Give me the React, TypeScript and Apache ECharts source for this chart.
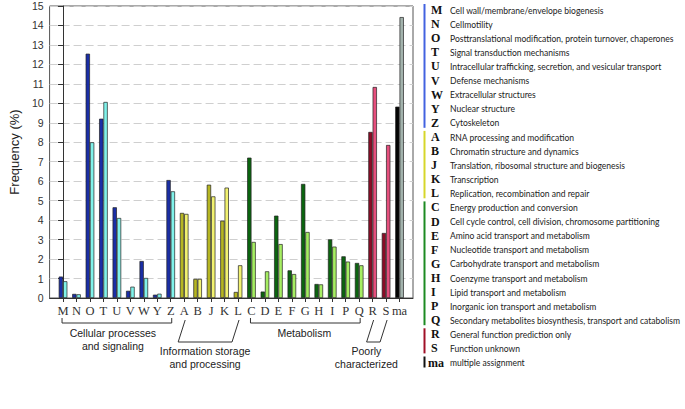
import React, { useEffect, useRef } from "react";
import * as echarts from "echarts";

const categories = ["M","N","O","T","U","V","W","Y","Z","A","B","J","K","L","C","D","E","F","G","H","I","P","Q","R","S","ma"];
const groupOf = ["cell","cell","cell","cell","cell","cell","cell","cell","cell","info","info","info","info","info","meta","meta","meta","meta","meta","meta","meta","meta","meta","poor","poor","ma"];
const darkValues = [1.10,0.21,12.55,9.21,4.66,0.37,1.90,0.17,6.06,4.37,0.98,5.82,3.97,0.31,7.21,0.33,4.23,1.42,5.86,0.72,3.01,2.14,1.80,8.53,3.34,9.83];
const lightValues = [0.86,0.19,8.0,10.07,4.11,0.58,1.03,0.22,5.48,4.32,0.98,5.22,5.67,1.68,2.88,1.37,2.77,1.23,3.39,0.70,2.64,1.87,1.68,10.84,7.86,14.43];
const descriptions = [
  "Cell wall/membrane/envelope biogenesis",
  "Cellmotility",
  "Posttranslational modification, protein turnover, chaperones",
  "Signal transduction mechanisms",
  "Intracellular trafficking, secretion, and vesicular transport",
  "Defense mechanisms",
  "Extracellular structures",
  "Nuclear structure",
  "Cytoskeleton",
  "RNA processing and modification",
  "Chromatin structure and dynamics",
  "Translation, ribosomal structure and biogenesis",
  "Transcription",
  "Replication, recombination and repair",
  "Energy production and conversion",
  "Cell cycle control, cell division, chromosome partitioning",
  "Amino acid transport and metabolism",
  "Nucleotide transport and metabolism",
  "Carbohydrate transport and metabolism",
  "Coenzyme transport and metabolism",
  "Lipid transport and metabolism",
  "Inorganic ion transport and metabolism",
  "Secondary metabolites biosynthesis, transport and catabolism",
  "General function prediction only",
  "Function unknown",
  "multiple assignment",
];
const groupKeys = ["cell", "info", "meta", "poor", "ma"];
const groupTitles = ["Cellular processes\nand signaling", "Information storage\nand processing", "Metabolism", "Poorly\ncharacterized", ""];
const yTicks = [0, 1, 2, 3, 4, 5, 6, 7, 8, 9, 10, 11, 12, 13, 14, 15];

const darkColors: Record<string, string> = { cell: "#1a2ea6", info: "#b6b622", meta: "#0b640f", poor: "#8a0c26", ma: "#050505" };
const lightColors: Record<string, string> = { cell: "#80f2ea", info: "#f2f270", meta: "#a6ee62", poor: "#e64f7d", ma: "#a3b3ad" };
const legendBarColors: Record<string, string> = { cell: "#4262e0", info: "#d6d62a", meta: "#1d8a22", poor: "#a01028", ma: "#111111" };

export default function App() {
  const ref = useRef<HTMLDivElement>(null);
  useEffect(() => {
    if (!ref.current) return;
    const chart = echarts.init(ref.current, null, { renderer: "svg" });
    const mkData = (vals: number[], colors: Record<string, string>) =>
      vals.map((v, i) => ({ value: [i, v], itemStyle: { color: colors[groupOf[i]] } }));
    chart.setOption({
      animation: false,
      grid: { left: 46, right: 272, top: 6, bottom: 111, show: true, borderColor: "#555", borderWidth: 1, backgroundColor: "transparent" },
      xAxis: {
        type: "value",
        min: -1,
        max: 26,
        interval: 1,
        splitLine: { show: false },
        axisLine: { lineStyle: { color: "#333", width: 1 } },
        axisTick: { show: true, length: 4, lineStyle: { color: "#333" }, customValues: categories.map((_, i) => i) },
        axisLabel: {
          customValues: categories.map((_, i) => i),
          formatter: (v: number) => categories[v] ?? "",
          fontFamily: "Liberation Serif",
          fontSize: 12.5,
          color: "#333",
          margin: 6,
        },
      },
      yAxis: {
        type: "value",
        min: yTicks[0],
        max: yTicks[yTicks.length - 1],
        interval: 1,
        name: "Frequency (%)",
        nameLocation: "middle",
        nameGap: 28,
        nameTextStyle: { fontFamily: "Liberation Sans", fontSize: 13, color: "#222" },
        axisLine: { show: true, lineStyle: { color: "#333" } },
        axisTick: { show: true, length: 5, lineStyle: { color: "#333" } },
        axisLabel: { fontFamily: "Liberation Sans", fontSize: 10.5, color: "#333", margin: 6 },
        splitLine: { show: true, lineStyle: { color: "#cfcfcf", type: [8, 4], width: 1 } },
      },
      series: [
        {
          type: "bar",
          data: mkData(darkValues, darkColors),
          barWidth: 4.3,
          barGap: "0%",
          itemStyle: { borderColor: "#222", borderWidth: 0.7 },
        },
        {
          type: "bar",
          data: mkData(lightValues, lightColors),
          barWidth: 4.3,
          barGap: "0%",
          itemStyle: { borderColor: "#222", borderWidth: 0.7 },
        },
      ],
    });

    const px = (i: number) => (chart.convertToPixel({ gridIndex: 0 }, [i, 0]) as number[])[0];
    const graphics: any[] = [];
    // group brackets under axis
    groupKeys.forEach((g, gi) => {
      const idx = groupOf.map((k, i) => (k === g ? i : -1)).filter((i) => i >= 0);
      if (!groupTitles[gi]) return;
      const x0 = px(idx[0]);
      const x1 = px(idx[idx.length - 1]);
      const slanted = g === "info" || g === "poor";
      let points: number[][];
      let tx: number;
      let ty: number;
      if (slanted) {
        points = [[x0 + 1, 320], [x0 - 6, 342], [x1 - 6, 342], [x1 + 1, 320]];
        tx = g === "poor" ? (x0 + x1) / 2 - 13 : (x0 + x1) / 2 - 6;
        ty = 345;
      } else {
        points = [[x0 - 1, 318], [x0 - 1, 323], [x1 + 1, 323], [x1 + 1, 318]];
        tx = g === "cell" ? (x0 + x1) / 2 - 4 : (x0 + x1) / 2 - 1;
        ty = 327;
      }
      graphics.push({ type: "polyline", shape: { points }, style: { stroke: "#333", lineWidth: 1, fill: null } });
      graphics.push({
        type: "text",
        x: tx,
        y: ty,
        style: { text: groupTitles[gi], fontFamily: "Liberation Sans", fontSize: 10.5, lineHeight: 12.5, fill: "#222", align: "center", verticalAlign: "top" },
      });
    });
    // legend
    const rowY = (i: number) => 10 + 14.1 * i;
    groupKeys.forEach((g) => {
      const idx = groupOf.map((k, i) => (k === g ? i : -1)).filter((i) => i >= 0);
      const y0 = rowY(idx[0]) - 6;
      const y1 = rowY(idx[idx.length - 1]) + 5;
      graphics.push({ type: "rect", shape: { x: 423.5, y: y0, width: 2, height: y1 - y0 }, style: { fill: legendBarColors[g] } });
    });
    categories.forEach((c, i) => {
      graphics.push({
        type: "text",
        x: c === "ma" ? 428 : 431,
        y: rowY(i),
        style: { text: c, fontFamily: "Liberation Serif", fontWeight: "bold", fontSize: 12, fill: "#111", verticalAlign: "middle", align: "left" },
      });
      graphics.push({
        type: "text",
        x: 450,
        y: rowY(i),
        scaleX: 0.9,
        style: { text: descriptions[i], fontFamily: "Lato", fontSize: 9.5, fill: "#222", verticalAlign: "middle", align: "left" },
      });
    });
    chart.setOption({ graphic: graphics });
    return () => chart.dispose();
  }, []);
  return <div ref={ref} style={{ width: 685, height: 409, position: "absolute", left: 0, top: 0, background: "#fff" }} />;
}
